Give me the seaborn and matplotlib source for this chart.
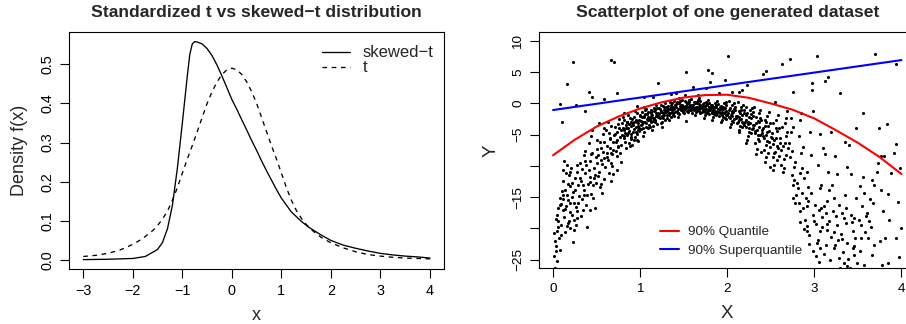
import matplotlib
matplotlib.use("Agg")
import matplotlib.pyplot as plt
import seaborn as sns
import pandas as pd

sns.set_theme(style="white")
plt.rcParams['font.family'] = ['Liberation Sans', 'DejaVu Sans']
plt.rcParams['axes.unicode_minus'] = True

# ---------------- left panel data ----------------
skew_x = [-3.0, -2.5, -2.0, -1.75, -1.5, -1.4, -1.3, -1.2, -1.1, -1.0, -0.95, -0.9, -0.85,
          -0.8, -0.75, -0.7, -0.6, -0.5, -0.4, -0.3, -0.2, -0.1, 0.0, 0.1, 0.2, 0.3, 0.4,
          0.5, 0.6, 0.7, 0.8, 0.9, 1.0, 1.2, 1.4, 1.55, 1.8, 2.0, 2.25, 2.5, 2.75, 3.0,
          3.25, 3.5, 3.75, 4.0]
skew_y = [0.001, 0.002, 0.004, 0.009, 0.027, 0.045, 0.080, 0.140, 0.235, 0.350, 0.410, 0.470,
          0.525, 0.552, 0.558, 0.557, 0.552, 0.540, 0.522, 0.498, 0.470, 0.440, 0.410, 0.385,
          0.358, 0.332, 0.305, 0.280, 0.253, 0.228, 0.204, 0.180, 0.158, 0.123, 0.099, 0.084,
          0.064, 0.050, 0.038, 0.030, 0.023, 0.017, 0.013, 0.010, 0.008, 0.005]

t_x = [-3.0, -2.75, -2.5, -2.25, -2.0, -1.8, -1.6, -1.5, -1.4, -1.3, -1.2, -1.1, -1.0, -0.9,
       -0.8, -0.7, -0.6, -0.5, -0.4, -0.3, -0.2, -0.1, 0.0, 0.1, 0.2, 0.3, 0.4, 0.5, 0.6,
       0.7, 0.8, 0.9, 1.0, 1.1, 1.2, 1.3, 1.4, 1.5, 1.6, 1.8, 2.0, 2.25, 2.5, 2.75, 3.0,
       3.25, 3.5, 3.75, 4.0]
t_y = [0.009, 0.012, 0.017, 0.026, 0.040, 0.055, 0.075, 0.088, 0.105, 0.125, 0.153, 0.185,
       0.222, 0.258, 0.292, 0.328, 0.364, 0.400, 0.430, 0.455, 0.474, 0.486, 0.490, 0.486,
       0.474, 0.455, 0.430, 0.400, 0.364, 0.328, 0.292, 0.258, 0.222, 0.185, 0.153, 0.127,
       0.107, 0.091, 0.078, 0.058, 0.044, 0.031, 0.021, 0.014, 0.010, 0.007, 0.005, 0.004,
       0.003]

left_xticks = [-3, -2, -1, 0, 1, 2, 3, 4]
left_yticks = [0.0, 0.1, 0.2, 0.3, 0.4, 0.5]
left_yticklabels = ['0.0', '0.1', '0.2', '0.3', '0.4', '0.5']

# ---------------- right panel data ----------------
scatter_points = [
    (0.01,-24.5),(0.02,-26.3),(0.03,-22.8),(0.04,-20.5),(0.05,-25.2),(0.03,-18.5),(0.06,-16.8),
    (0.07,-21.6),(0.08,-15.2),(0.09,-19.4),(0.05,-17.9),(0.02,-22.0),(0.08,-23.5),(0.10,-14.0),
    (0.06,-19.8),(0.09,-16.1),(0.04,-26.8),(0.08,-0.06),(0.10,-3.0),(0.157,3.09),
    (0.11,-12.4),(0.12,-10.6),(0.13,-18.2),(0.14,-13.8),(0.15,-16.5),(0.16,-9.8),(0.17,-19.2),
    (0.18,-11.5),(0.19,-17.4),(0.12,-15.3),(0.14,-20.6),(0.16,-14.7),(0.18,-18.8),(0.13,-9.2),
    (0.17,-12.9),(0.19,-16.0),(0.11,-17.0),(0.15,-11.1),(0.20,-19.9),(0.20,-13.2),
    (0.21,-10.3),(0.22,-17.8),(0.23,-14.2),(0.24,-20.3),(0.25,-11.9),(0.26,-16.6),(0.27,-9.8),
    (0.28,-18.4),(0.29,-13.0),(0.22,-12.7),(0.24,-15.9),(0.26,-19.4),(0.28,-11.0),(0.30,-14.8),
    (0.23,-22.2),(0.27,-17.2),(0.233,6.57),(0.264,-0.3),
    (0.31,-9.6),(0.32,-12.4),(0.33,-15.3),(0.34,-17.0),(0.35,-8.2),(0.36,-13.8),(0.37,-11.1),
    (0.38,-16.2),(0.39,-19.8),(0.33,-10.5),(0.35,-14.6),(0.37,-7.6),(0.40,-12.9),(0.32,-18.1),
    (0.38,-9.9),(0.37,-1.2),
    (0.41,-6.3),(0.42,-9.2),(0.43,-11.8),(0.44,-14.5),(0.45,-7.9),(0.46,-13.1),(0.47,-10.4),
    (0.48,-16.7),(0.49,-8.6),(0.42,-12.6),(0.44,-5.2),(0.46,-15.2),(0.48,-11.5),(0.50,-9.6),
    (0.45,-4.3),(0.43,-17.0),(0.49,-12.8),(0.417,1.81),(0.45,1.0),
    (0.51,-5.8),(0.52,-8.3),(0.53,-10.9),(0.54,-13.4),(0.55,-7.1),(0.56,-9.7),(0.57,-4.9),
    (0.58,-12.1),(0.59,-8.8),(0.52,-11.6),(0.54,-6.2),(0.56,-14.3),(0.58,-3.9),(0.60,-10.2),
    (0.53,-3.2),(0.57,-7.7),(0.55,-12.9),(0.59,0.75),
    (0.61,-4.2),(0.62,-6.8),(0.63,-9.1),(0.64,-11.2),(0.65,-5.5),(0.66,-7.9),(0.67,-3.6),
    (0.68,-10.0),(0.69,-6.2),(0.62,-8.5),(0.64,-4.8),(0.66,-12.4),(0.68,-8.1),(0.70,-5.0),
    (0.63,-2.9),(0.67,-9.6),(0.69,-11.3),(0.65,-7.2),(0.662,6.94),(0.70,6.57),
    (0.71,-3.8),(0.72,-6.1),(0.73,-8.4),(0.74,-4.6),(0.75,-7.0),(0.76,-2.5),(0.77,-5.4),
    (0.78,-9.3),(0.79,-3.1),(0.72,-7.6),(0.74,-5.8),(0.76,-4.0),(0.78,-6.6),(0.80,-2.2),
    (0.73,-10.6),(0.77,-8.0),(0.79,-5.1),(0.75,-3.3),(0.74,1.6),
    (0.81,-4.2),(0.82,-2.6),(0.83,-6.1),(0.84,-3.5),(0.85,-5.0),(0.86,-1.9),(0.87,-4.4),
    (0.88,-6.8),(0.89,-3.0),(0.82,-5.5),(0.84,-7.2),(0.86,-3.9),(0.88,-2.4),(0.90,-5.7),
    (0.83,-4.8),(0.85,-2.9),(0.87,-6.3),(0.89,-4.9),(0.81,-1.5),(0.90,-3.6),
    (0.91,-3.1),(0.92,-4.6),(0.93,-2.2),(0.94,-5.3),(0.95,-3.8),(0.96,-1.6),(0.97,-4.2),
    (0.98,-6.0),(0.99,-2.7),(0.92,-3.5),(0.94,-1.2),(0.96,-4.9),(0.98,-3.2),(1.00,-2.0),
    (0.93,-5.8),(0.95,-2.6),(0.97,-3.6),(0.99,-4.4),(0.91,-6.6),(0.96,-0.4),(0.96,-5.9),
    (1.01,-2.8),(1.02,-1.4),(1.03,-3.9),(1.04,-2.2),(1.05,-4.6),(1.06,-1.0),(1.07,-3.1),
    (1.08,-2.5),(1.09,-4.0),(1.02,-3.3),(1.04,-0.6),(1.06,-2.9),(1.08,-1.7),(1.10,-3.5),
    (1.03,-5.2),(1.05,-2.0),(1.07,-0.9),(1.09,-2.7),(1.01,-4.1),(1.05,1.0),
    (1.11,-2.3),(1.12,-1.1),(1.13,-3.0),(1.14,-1.8),(1.15,-3.6),(1.16,-0.7),(1.17,-2.6),
    (1.18,-1.5),(1.19,-3.3),(1.12,-2.0),(1.14,-4.2),(1.16,-2.4),(1.18,-0.3),(1.20,-2.1),
    (1.13,-1.4),(1.15,-2.8),(1.17,-1.0),(1.19,-1.9),(1.11,-3.8),(1.15,1.1),(1.20,3.3),
    (1.21,-1.6),(1.22,-0.8),(1.23,-2.4),(1.24,-1.2),(1.25,-2.9),(1.26,-0.4),(1.27,-1.9),
    (1.28,-1.0),(1.29,-2.6),(1.22,-1.7),(1.24,-3.2),(1.26,-1.5),(1.28,0.0),(1.30,-1.3),
    (1.23,-0.9),(1.25,-2.0),(1.27,-0.6),(1.29,-1.4),(1.25,-3.8),
    (1.31,-1.1),(1.32,-0.4),(1.33,-1.8),(1.34,-0.9),(1.35,-2.2),(1.36,0.1),(1.37,-1.4),
    (1.38,-0.6),(1.39,-2.0),(1.32,-1.3),(1.34,0.3),(1.36,-0.8),(1.38,-1.6),(1.40,-0.2),
    (1.33,-2.7),(1.35,-0.5),(1.37,-1.0),(1.39,0.4),(1.35,1.5),(1.31,-2.4),
    (1.41,-0.6),(1.42,-1.2),(1.43,0.0),(1.44,-0.9),(1.45,-1.7),(1.46,0.4),(1.47,-0.3),
    (1.48,-1.1),(1.49,-0.5),(1.42,0.3),(1.44,-1.5),(1.46,-0.7),(1.48,0.6),(1.50,-1.0),
    (1.43,-2.2),(1.45,0.1),(1.47,-0.8),(1.49,-1.4),(1.41,1.7),(1.45,0.9),
    (1.51,-0.4),(1.52,-0.9),(1.53,0.2),(1.54,-0.6),(1.55,-1.3),(1.56,0.5),(1.57,-0.2),
    (1.58,-1.0),(1.59,-0.3),(1.52,0.4),(1.54,-1.2),(1.56,-0.5),(1.58,0.7),(1.60,-0.8),
    (1.53,-2.8),(1.55,0.0),(1.57,-0.7),(1.59,-1.5),(1.53,5.1),(1.51,1.4),
    (1.61,-0.3),(1.62,-0.8),(1.63,0.3),(1.64,-0.5),(1.65,-1.1),(1.66,0.6),(1.67,-0.1),
    (1.68,-0.9),(1.69,-0.4),(1.62,0.2),(1.64,-1.4),(1.66,-0.6),(1.68,0.8),(1.70,-0.7),
    (1.63,-1.9),(1.65,0.0),(1.67,-1.2),(1.69,0.4),(1.61,2.6),(1.66,1.3),
    (1.71,-0.5),(1.72,-1.0),(1.73,0.1),(1.74,-0.7),(1.75,-1.4),(1.76,0.3),(1.77,-0.3),
    (1.78,-1.2),(1.79,-0.6),(1.72,-0.1),(1.74,-1.8),(1.76,-0.9),(1.78,0.5),(1.80,-1.1),
    (1.73,-2.3),(1.75,-0.4),(1.77,-1.6),(1.79,0.0),(1.78,5.3),(1.76,2.4),
    (1.81,-0.8),(1.82,-1.3),(1.83,-0.2),(1.84,-1.0),(1.85,-1.7),(1.86,0.1),(1.87,-0.5),
    (1.88,-1.5),(1.89,-0.9),(1.82,-0.4),(1.84,-2.1),(1.86,-1.2),(1.88,0.4),(1.90,-1.4),
    (1.83,-2.6),(1.85,-0.7),(1.87,-1.9),(1.89,-0.1),(1.82,4.9),(1.80,3.5),
    (1.91,-1.0),(1.92,-1.6),(1.93,-0.4),(1.94,-1.3),(1.95,-2.1),(1.96,0.0),(1.97,-0.8),
    (1.98,-1.9),(1.99,-1.2),(1.92,-0.6),(1.94,-2.6),(1.96,-1.5),(1.98,0.3),(2.00,-1.8),
    (1.93,-3.0),(1.95,-0.9),(1.97,-2.3),(1.99,-0.3),(1.91,1.6),(1.97,3.8),
    (2.01,-1.5),(2.02,-2.2),(2.03,-0.8),(2.04,-1.9),(2.05,-2.8),(2.06,-0.3),(2.07,-1.4),
    (2.08,-2.5),(2.09,-1.1),(2.02,0.4),(2.04,-3.3),(2.06,-2.0),(2.08,0.1),(2.10,-2.4),
    (2.03,-3.7),(2.05,-1.2),(2.07,-2.9),(2.09,-0.6),(2.01,7.6),(2.05,1.8),
    (2.11,-2.0),(2.12,-2.9),(2.13,-1.2),(2.14,-2.6),(2.15,-3.6),(2.16,-0.6),(2.17,-1.8),
    (2.18,-3.2),(2.19,-1.5),(2.12,0.2),(2.14,-4.2),(2.16,-2.5),(2.18,-0.2),(2.20,-3.0),
    (2.13,-4.6),(2.15,-1.6),(2.17,-3.8),(2.19,-1.0),(2.13,1.8),(2.17,2.2),
    (2.21,-2.7),(2.22,-3.8),(2.23,-1.6),(2.24,-3.3),(2.25,-4.6),(2.26,-1.0),(2.27,-2.4),
    (2.28,-4.1),(2.29,-2.0),(2.22,-0.5),(2.24,-5.2),(2.26,-3.1),(2.28,-0.8),(2.30,-3.9),
    (2.23,-5.8),(2.25,-2.2),(2.27,-4.8),(2.29,-1.4),(2.23,3.0),(2.21,-6.3),
    (2.31,-3.4),(2.32,-4.8),(2.33,-2.1),(2.34,-4.2),(2.35,-5.7),(2.36,-1.5),(2.37,-3.0),
    (2.38,-5.1),(2.39,-2.6),(2.32,-6.4),(2.34,-7.3),(2.36,-3.8),(2.38,-1.0),(2.40,-4.7),
    (2.33,-8.1),(2.35,-2.8),(2.37,-6.0),(2.39,-7.8),(2.31,-0.6),
    (2.41,-4.0),(2.42,-5.6),(2.43,-2.6),(2.44,-5.0),(2.45,-6.7),(2.46,-2.0),(2.47,-3.6),
    (2.48,-6.1),(2.49,-3.2),(2.42,-7.4),(2.44,-8.6),(2.46,-4.6),(2.48,-1.4),(2.50,-5.4),
    (2.43,-9.4),(2.45,-3.0),(2.47,-7.9),(2.41,4.8),(2.45,5.2),(2.49,-10.1),
    (2.51,-4.8),(2.52,-6.5),(2.53,-3.2),(2.54,-5.9),(2.55,-7.8),(2.56,-2.6),(2.57,-4.4),
    (2.58,-7.1),(2.59,-3.9),(2.52,-8.6),(2.54,-9.8),(2.56,-5.5),(2.58,-1.8),(2.60,-6.3),
    (2.53,-10.6),(2.57,-9.0),(2.55,0.2),
    (2.61,-5.5),(2.62,-7.4),(2.63,-3.8),(2.64,-6.8),(2.65,-8.9),(2.66,-3.1),(2.67,-5.2),
    (2.68,-8.2),(2.69,-4.6),(2.62,-9.8),(2.64,-11.0),(2.66,-6.3),(2.68,-2.4),(2.70,-7.2),
    (2.63,6.25),(2.65,-10.4),(2.69,-1.2),
    (2.71,-6.3),(2.72,-8.5),(2.73,-4.5),(2.74,-11.5),(2.75,-13.0),(2.76,-3.7),(2.77,-12.2),
    (2.78,-9.4),(2.79,-14.6),(2.72,7.05),(2.74,-7.6),(2.76,1.9),(2.78,-16.0),(2.80,-12.8),
    (2.73,-2.4),(2.77,-10.2),(2.75,-15.1),
    (2.81,-13.6),(2.82,-15.9),(2.83,-11.2),(2.84,-17.3),(2.85,-8.0),(2.86,-14.4),(2.87,-16.8),
    (2.88,-12.0),(2.89,-18.6),(2.82,-5.2),(2.84,-2.6),(2.86,-10.4),(2.88,-20.1),(2.90,-15.2),
    (2.83,-19.0),(2.87,-7.0),(2.85,-1.5),
    (2.91,-16.5),(2.92,-19.6),(2.93,-13.4),(2.94,-21.0),(2.95,-4.5),(2.96,-14.4),(2.97,3.2),
    (2.97,2.2),(2.98,-17.8),(2.99,-1.2),(2.92,-11.0),(2.94,-22.5),(2.96,-8.2),(2.98,-23.6),
    (3.00,-18.9),(2.93,-15.7),(2.91,-20.4),
    (3.01,-16.2),(3.02,-19.3),(3.03,7.6),(3.04,-21.8),(3.05,-17.0),(3.06,-23.1),(3.07,-13.5),
    (3.08,-13.1),(3.09,-18.2),(3.02,-24.5),(3.04,-9.8),(3.06,-20.5),(3.08,-16.7),(3.10,-7.2),
    (3.03,-22.4),(3.07,-4.9),(3.05,-25.4),(3.09,-19.8),
    (3.11,-24.1),(3.12,3.6),(3.12,-8.1),(3.13,-17.5),(3.14,-20.2),(3.15,-15.6),(3.16,4.2),
    (3.16,-10.9),(3.17,-18.8),(3.18,-25.0),(3.19,-4.6),(3.13,-22.6),(3.15,-19.3),(3.17,-13.8),
    (3.19,-21.4),(3.11,-16.4),(3.20,-13.1),
    (3.21,-17.2),(3.22,-20.6),(3.23,-23.2),(3.24,-8.4),(3.25,-18.0),(3.26,-11.3),(3.27,-21.9),
    (3.28,-24.8),(3.29,1.7),(3.29,-26.3),(3.22,-15.1),(3.26,-19.5),(3.28,-16.3),(3.24,-22.7),
    (3.31,-20.9),(3.32,-17.6),(3.33,-23.8),(3.34,-25.6),(3.35,-6.2),(3.35,-14.7),(3.36,-19.1),
    (3.37,-10.2),(3.38,-22.4),(3.39,-24.9),(3.32,-21.7),(3.36,-16.8),(3.38,-26.1),(3.40,-6.7),
    (3.34,-18.4),
    (3.41,-26.3),(3.42,-11.3),(3.43,-19.0),(3.44,-23.1),(3.45,-24.3),(3.46,-18.3),(3.47,-21.6),
    (3.48,-4.0),(3.49,-25.5),(3.42,-17.9),(3.44,-20.4),(3.46,-22.8),(3.48,-15.2),
    (3.51,-18.7),(3.52,-13.2),(3.52,-23.7),(3.54,-19.5),(3.55,-16.4),(3.56,-1.6),(3.56,-11.8),
    (3.57,-25.8),(3.58,-20.6),(3.59,-18.1),(3.53,-21.5),(3.57,-14.3),
    (3.61,-17.5),(3.62,-21.5),(3.63,-18.9),(3.64,-15.3),(3.66,-12.3),(3.66,-24.2),(3.67,-16.0),
    (3.69,-13.1),(3.70,7.9),(3.68,-22.6),(3.65,-19.8),
    (3.72,-10.9),(3.74,-4.0),(3.76,-8.4),(3.78,-25.8),(3.79,-17.3),(3.75,-22.0),(3.73,-9.5),
    (3.77,-13.9),
    (3.80,-8.4),(3.81,-21.5),(3.84,-14.5),(3.84,-25.5),(3.86,-18.6),(3.88,-11.2),(3.83,-3.3),
    (3.91,-7.9),(3.94,-6.5),(3.94,6.3),(3.94,-21.5),(3.96,-15.8),(3.99,-19.9),(3.98,-10.3),
    (3.97,-24.6),
    # additional points in the dense arch
    (0.015,-20.8),(0.035,-23.6),(0.055,-18.9),(0.075,-16.3),(0.095,-21.0),(0.115,-14.6),
    (0.135,-16.9),(0.155,-19.7),(0.175,-15.5),(0.195,-11.0),(0.215,-15.0),(0.235,-18.6),
    (0.255,-13.9),(0.285,-16.0),(0.305,-11.9),(0.345,-13.0),(0.365,-9.2),(0.395,-14.7),
    (0.415,-10.6),(0.435,-8.1),(0.475,-12.0),(0.505,-7.3),(0.545,-9.0),(0.585,-6.2),
    (0.615,-8.0),(0.655,-5.7),(0.685,-7.5),(0.715,-4.9),(0.745,-6.8),(0.785,-4.3),
    (0.805,-3.9),(0.815,-5.2),(0.835,-4.0),(0.845,-2.9),(0.865,-4.7),(0.875,-3.3),(0.895,-5.4),
    (0.905,-2.5),(0.925,-4.1),(0.935,-3.0),(0.955,-4.5),(0.965,-2.9),(0.985,-3.9),(0.995,-1.8),
    (1.015,-3.4),(1.025,-2.1),(1.035,-3.0),(1.055,-1.7),(1.065,-3.7),(1.085,-2.2),(1.095,-1.3),
    (1.115,-2.7),(1.125,-1.6),(1.145,-2.3),(1.155,-1.2),(1.175,-2.9),(1.185,-2.0),(1.195,-0.8),
    (1.215,-2.2),(1.235,-1.3),(1.245,-0.3),(1.265,-2.3),(1.275,-1.1),(1.295,-0.5),(1.305,-1.8),
    (1.325,-0.9),(1.345,-1.6),(1.355,-0.2),(1.375,-1.9),(1.385,-0.9),
    (1.405,-1.3),(1.415,-0.1),(1.435,-1.5),(1.455,-0.4),(1.465,-1.1),(1.485,-0.2),(1.505,-1.6),
    (1.515,-0.6),(1.535,-0.1),(1.545,-1.0),(1.565,0.2),(1.575,-1.1),(1.595,-0.6),
    (1.615,-1.1),(1.625,0.0),(1.645,-0.8),(1.655,0.3),(1.675,-0.5),(1.685,-1.5),(1.705,-0.2),
    (1.715,-1.3),(1.735,-0.5),(1.745,-1.1),(1.765,-0.1),(1.785,-0.9),(1.795,-1.7),
    (1.815,-0.3),(1.825,-1.6),(1.845,-0.6),(1.855,-1.3),(1.875,-0.2),(1.895,-1.2),(1.905,-2.0),
    (1.925,-0.9),(1.945,-1.8),(1.955,-0.5),(1.975,-1.4),(1.985,-2.5),
    (2.015,-1.0),(2.035,-2.4),(2.055,-1.6),(2.075,-0.9),(2.095,-2.0),(2.115,-3.2),(2.135,-2.2),
    (2.155,-1.0),(2.175,-2.9),(2.195,-3.5),(2.215,-1.8),(2.235,-3.0),(2.255,-4.0),(2.275,-1.7),
    (2.295,-3.5),(2.315,-4.4),(2.335,-3.1),(2.355,-5.0),(2.375,-2.3),(2.395,-4.3),(2.415,-5.2),
    (2.435,-3.6),(2.455,-6.0),(2.475,-4.4),(2.495,-7.0),(2.515,-5.5),(2.535,-8.0),(2.555,-4.0),
    (2.575,-6.8),(2.595,-8.4),
]

quant_x = [0.0, 0.25, 0.5, 0.75, 1.0, 1.25, 1.5, 1.75, 2.0, 2.25, 2.5, 2.75, 3.0, 3.25, 3.5, 3.75, 4.0]
quant_y = [-8.3, -5.8, -3.7, -2.1, -0.8, 0.2, 0.95, 1.35, 1.4, 0.9, 0.0, -1.0, -2.4, -4.3, -6.3, -8.6, -11.3]

superq_x = [0.0, 4.0]
superq_y = [-1.05, 6.95]

right_xticks = [0, 1, 2, 3, 4]
right_yticks = [10, 5, 0, -5, -10, -15, -20, -25]
right_yticklabels = ['10', '5', '0', '\u22125', '', '\u221215', '', '\u221225']

# ---------------- figure ----------------
W, H = 906, 324
fig = plt.figure(figsize=(W / 100, H / 100), dpi=100)
fig.patch.set_facecolor('white')

def px_axes(x0, x1, y_top, y_bot):
    return fig.add_axes([x0 / W, (H - y_bot) / H, (x1 - x0) / W, (y_bot - y_top) / H])

ax1 = px_axes(69.4, 443.9, 32.2, 268.8)
ax2 = px_axes(539.1, 915.4, 32.3, 268.3)

# left panel
df_s = pd.DataFrame({'x': skew_x, 'y': skew_y})
df_t = pd.DataFrame({'x': t_x, 'y': t_y})
sns.lineplot(data=df_s, x='x', y='y', ax=ax1, color='black', lw=0.95, label='skewed\u2212t')
sns.lineplot(data=df_t, x='x', y='y', ax=ax1, color='black', lw=0.95, label='t')
ax1.lines[1].set_dashes([3.5, 3.5])
ax1.set_xlim(-3.28, 4.28)
ax1.set_ylim(-0.0224, 0.582)
ax1.set_xticks(left_xticks)
ax1.set_yticks(left_yticks)
ax1.set_yticklabels(left_yticklabels)
ax1.set_title('Standardized t vs skewed\u2212t distribution', fontsize=12.6,
              fontweight='bold', pad=11)
ax1.set_xlabel('x', fontsize=13)
ax1.set_ylabel('Density f(x)', fontsize=13)
ax1.xaxis.label.set_va('center')
ax1.xaxis.set_label_coords(0.5, (268.8 - 315) / (268.8 - 32.2))
ax1.yaxis.label.set_va('center')
ax1.yaxis.set_label_coords((20 - 69.4) / (443.9 - 69.4), 0.5)
leg1 = ax1.legend(loc='upper left', bbox_to_anchor=(0.674, 0.944), frameon=False,
                  fontsize=12, handlelength=1.7, handletextpad=0.76, labelspacing=0.0,
                  borderaxespad=0, borderpad=0)

# right panel
df_pts = pd.DataFrame(scatter_points, columns=['X', 'Y'])
sns.scatterplot(data=df_pts, x='X', y='Y', ax=ax2, color='black', s=5,
                linewidth=0, legend=False)
sns.lineplot(x=quant_x, y=quant_y, ax=ax2, color='#ff0000', lw=1.5, label='90% Quantile')
sns.lineplot(x=superq_x, y=superq_y, ax=ax2, color='#0000ff', lw=1.5, label='90% Superquantile')
ax2.set_xlim(-0.16, 4.16)
ax2.set_ylim(-26.4, 11.4)
ax2.set_xticks(right_xticks)
ax2.set_yticks(right_yticks)
ax2.set_yticklabels(right_yticklabels)
ax2.set_title('Scatterplot of one generated dataset', fontsize=12.6, fontweight='bold',
              pad=11, x=(727.3 - 539.1) / (915.4 - 539.1))
ax2.set_xlabel('X', fontsize=13.5)
ax2.set_ylabel('Y', fontsize=13.5)
ax2.xaxis.label.set_va('center')
ax2.xaxis.set_label_coords(0.5, (268.3 - 313) / (268.3 - 32.3))
ax2.yaxis.label.set_va('center')
ax2.yaxis.set_label_coords((491 - 539.1) / (915.4 - 539.1), 0.5)
leg2 = ax2.legend(loc='upper left', bbox_to_anchor=(0.3205, 0.18), frameon=False,
                  fontsize=9.7, handlelength=1.45, handletextpad=0.62, labelspacing=0.45,
                  borderaxespad=0, borderpad=0)

for ax, tfs in ((ax1, 10.4), (ax2, 9.7)):
    for sp in ax.spines.values():
        sp.set_visible(True)
        sp.set_color('black')
        sp.set_linewidth(0.8)
    ax.tick_params(axis='both', which='major', direction='out', length=6.2, width=0.8,
                   color='black', labelsize=tfs, labelcolor='black', pad=4.5,
                   bottom=True, left=True)
    ax.tick_params(axis='y', labelrotation=90)
    for lab in ax.get_yticklabels():
        lab.set_va('center')
    ax.grid(False)
    ax.set_facecolor('white')

fig.savefig('out.png', dpi=100, facecolor='white')
